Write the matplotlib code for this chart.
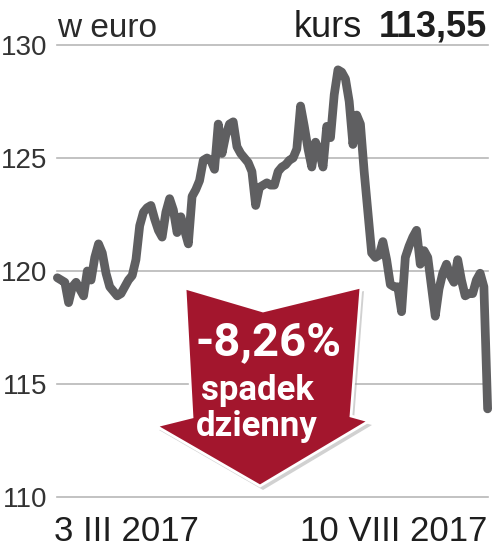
import numpy as np
import matplotlib
matplotlib.use("Agg")
import matplotlib.pyplot as plt
from matplotlib.patches import Polygon

# ------------------------------
# data
# ------------------------------
prices = [
    119.7, 119.6, 119.5, 118.6, 119.3, 119.5, 119.2, 118.9, 120.0, 119.6,
    120.6, 121.2, 120.8, 119.9, 119.3, 119.1, 118.9, 119.0, 119.3, 119.6,
    119.8, 120.5, 122.0, 122.6, 122.8, 122.9, 122.3, 121.8, 121.5, 122.6,
    123.2, 122.7, 121.7, 122.4, 121.8, 121.2, 123.3, 123.6, 124.0, 124.9,
    125.0, 124.9, 124.5, 126.5, 125.2, 126.0, 126.5, 126.6, 125.5, 125.2,
    125.0, 124.8, 124.4, 122.9, 123.7, 123.8, 123.9, 123.8, 123.8, 124.4,
    124.6, 124.7, 124.9, 125.0, 125.4, 127.3, 126.4, 125.4, 124.6, 125.7,
    125.3, 124.6, 126.4, 125.9, 127.8, 128.9, 128.8, 128.5, 127.5, 125.6,
    126.9, 126.5, 124.4, 122.6, 120.8, 120.6, 120.7, 121.3, 120.5, 119.4,
    119.3, 119.3, 118.2, 120.6, 121.1, 121.5, 121.8, 120.3, 120.9, 120.6,
    119.3, 118.0, 119.2, 119.9, 120.3, 119.8, 119.5, 120.5, 119.6, 118.9,
    119.0, 119.0, 119.6, 119.9, 119.3, 113.9,
]
y_ticks = [110, 115, 120, 125, 130]
date_first = "3 III 2017"
date_last = "10 VIII 2017"
unit_label = "w euro"
last_price = "113,55"
change_label = "-8,26%"
change_lines = ["spadek", "dzienny"]

W, H = 493, 549
fig = plt.figure(figsize=(W / 100, H / 100), dpi=100)
fig.patch.set_facecolor("white")


def px(x, y):
    # pixel position (top-left origin) -> figure fraction
    return x / W, 1 - y / H


# axes: x 57..488, y 45 (130) .. 497 (110)
ax = fig.add_axes([57 / W, 1 - 497 / H, (488 - 57) / W, (497 - 45) / H])
ax.set_ylim(110, 130)
x = np.arange(len(prices))
ax.set_xlim(-0.1, len(prices) - 0.9)
for s in ax.spines.values():
    s.set_visible(False)
ax.set_xticks([])
ax.set_yticks(y_ticks)
ax.set_yticklabels([str(t) for t in y_ticks], fontsize=20,
                   family="Liberation Sans", color="#333333")
ax.tick_params(axis="y", length=0, pad=7)
for t in y_ticks:
    ax.axhline(t, color="#b8b8b8", lw=1.2, clip_on=False, zorder=1)

ax.plot(x, prices, color="#5f5f61", lw=6.3, solid_capstyle="round",
        solid_joinstyle="round", zorder=3, clip_on=False)

# header
fig.text(*px(57, 37), unit_label, fontsize=24, family="Liberation Sans",
         color="#2a2a2a", va="baseline", ha="left")
fig.text(*px(362, 37), "kurs", fontsize=26, family="Liberation Sans",
         color="#1e1e1e", va="baseline", ha="right")
fig.text(*px(487, 37), last_price, fontsize=26, family="Liberation Sans",
         weight="bold", color="#1e1e1e", va="baseline", ha="right")

# date labels
fig.text(*px(54, 541), date_first, fontsize=25, family="Liberation Sans",
         color="#1e1e1e", va="baseline", ha="left")
fig.text(*px(487, 541), date_last, fontsize=25, family="Liberation Sans",
         color="#1e1e1e", va="baseline", ha="right")

# red arrow
arrow_px = [(185, 288), (263, 311), (361, 287), (351, 416), (369, 421),
            (260, 486), (156, 426), (192, 417)]
shadow = Polygon([px(a + 3, b + 4) for a, b in arrow_px], closed=True,
                 transform=fig.transFigure, facecolor="#9a9a9a", alpha=0.45,
                 edgecolor="none", zorder=5)
arrow = Polygon([px(a, b) for a, b in arrow_px], closed=True,
                transform=fig.transFigure, facecolor="#a3162d",
                edgecolor="white", lw=2, joinstyle="miter", zorder=6)
fig.add_artist(shadow)
fig.add_artist(arrow)

fig.text(*px(268, 355), change_label, fontsize=34, family="Roboto",
         weight="bold", color="white", ha="center", va="baseline", zorder=7)
fig.text(*px(257, 400), change_lines[0], fontsize=25, family="Roboto",
         weight="bold", color="white", ha="center", va="baseline", zorder=7)
fig.text(*px(257, 436), change_lines[1], fontsize=25, family="Roboto",
         weight="bold", color="white", ha="center", va="baseline", zorder=7)

fig.savefig("out.png", dpi=100)
